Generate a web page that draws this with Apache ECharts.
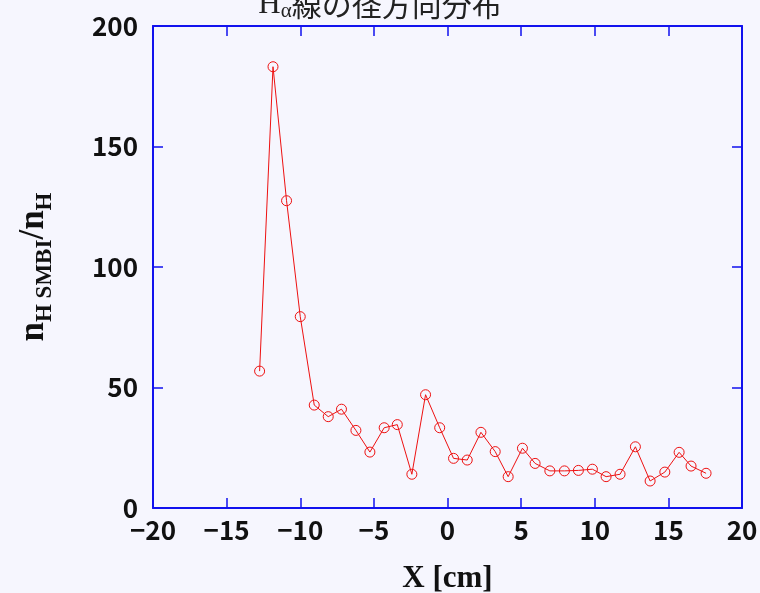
<!DOCTYPE html>
<html>
<head>
<meta charset="utf-8">
<script src="https://cdn.jsdelivr.net/npm/echarts@6/dist/echarts.min.js"></script>
<style>
  html, body { margin: 0; padding: 0; background: #f6f6fe; }
  #chart { width: 760px; height: 593px; }
</style>
</head>
<body>
<div id="chart"></div>
<script>
// 半径位置 [cm]
const xPos = [-12.76, -11.85, -10.93, -10.0, -9.05, -8.10, -7.20, -6.22, -5.27, -4.30, -3.41,
  -2.42, -1.49, -0.53, 0.41, 1.34, 2.27, 3.24, 4.12, 5.09, 5.95, 6.95, 7.94, 8.89, 9.84,
  10.77, 11.72, 12.76, 13.76, 14.76, 15.73, 16.54, 17.56]
// n_H SMBI / n_H
const ratio = [56.8, 183.1, 127.5, 79.4, 42.7, 37.9, 41.0, 32.2, 23.2, 33.3, 34.6,
  14.0, 47.0, 33.3, 20.6, 19.9, 31.4, 23.4, 13.0, 24.8, 18.5, 15.4, 15.4, 15.6, 16.1,
  13.0, 14.0, 25.4, 11.2, 14.9, 23.1, 17.4, 14.4]
const xTicks = [-20, 20, 5]   // min, max, interval
const yTicks = [0, 200, 50]

const axisBlue = '#1212ee'
const lineRed = '#ee1111'

const chart = echarts.init(document.getElementById('chart'))

// 枠線用の共通設定
function frameAxis(extra) {
  return Object.assign({
    type: 'value',
    axisLine: { show: true, onZero: false, lineStyle: { color: axisBlue, width: 2 } },
    axisTick: { show: true, inside: true, length: 10, lineStyle: { color: axisBlue, width: 1.5 } },
    splitLine: { show: false },
    axisLabel: { show: false }
  }, extra)
}

const tickLabel = {
  show: true,
  color: '#111',
  fontFamily: 'Noto Sans CJK JP',
  fontWeight: 'bold',
  fontSize: 26,
  formatter: v => String(v).replace('-', '\u2212')
}

const option = {
  backgroundColor: '#f6f6fe',
  animation: false,
  title: {
    text: '{h|H}{a|α}{t|線の径方向分布}',
    left: 'center',
    top: -18,
    textStyle: {
      fontWeight: 'normal',
      rich: {
        h: { fontFamily: 'Liberation Serif', fontWeight: 'normal', fontSize: 31, color: '#222' },
        a: { fontFamily: 'Liberation Serif', fontWeight: 'normal', fontSize: 21, color: '#222', padding: [14, 0, 0, 0] },
        t: { fontFamily: 'Noto Sans CJK JP', fontWeight: 'normal', fontSize: 30, color: '#222' }
      }
    }
  },
  grid: { left: 153, right: 18, top: 26, bottom: 85, containLabel: false, outerBoundsMode: 'none' },
  xAxis: [
    frameAxis({
      min: xTicks[0], max: xTicks[1], interval: xTicks[2],
      position: 'bottom',
      axisLabel: Object.assign({ margin: 9 }, tickLabel),
      name: 'X [cm]',
      nameLocation: 'middle',
      nameGap: 55,
      nameTextStyle: { fontFamily: 'Liberation Serif', fontWeight: 'bold', fontSize: 31, color: '#111' }
    }),
    frameAxis({ min: xTicks[0], max: xTicks[1], interval: xTicks[2], position: 'top' })
  ],
  yAxis: [
    frameAxis({
      min: yTicks[0], max: yTicks[1], interval: yTicks[2],
      position: 'left',
      axisLabel: Object.assign({ margin: 15 }, tickLabel),
      name: '{n|n}{s|H SMBI}{n|/n}{s|H}',
      nameLocation: 'middle',
      nameGap: 96,
      nameTextStyle: {
        rich: {
          n: { fontFamily: 'Liberation Serif', fontWeight: 'bold', fontSize: 35, color: '#111' },
          s: { fontFamily: 'Liberation Serif', fontWeight: 'bold', fontSize: 23, color: '#111', padding: [24, 0, 0, 0] }
        }
      }
    }),
    frameAxis({ min: yTicks[0], max: yTicks[1], interval: yTicks[2], position: 'right' })
  ],
  series: [{
    type: 'line',
    data: xPos.map((x, i) => [x, ratio[i]]),
    symbol: 'circle',
    symbolSize: 10,
    lineStyle: { color: lineRed, width: 1 },
    itemStyle: { color: 'rgba(0,0,0,0)', borderColor: lineRed, borderWidth: 1 }
  }]
}

chart.setOption(option)
</script>
</body>
</html>
